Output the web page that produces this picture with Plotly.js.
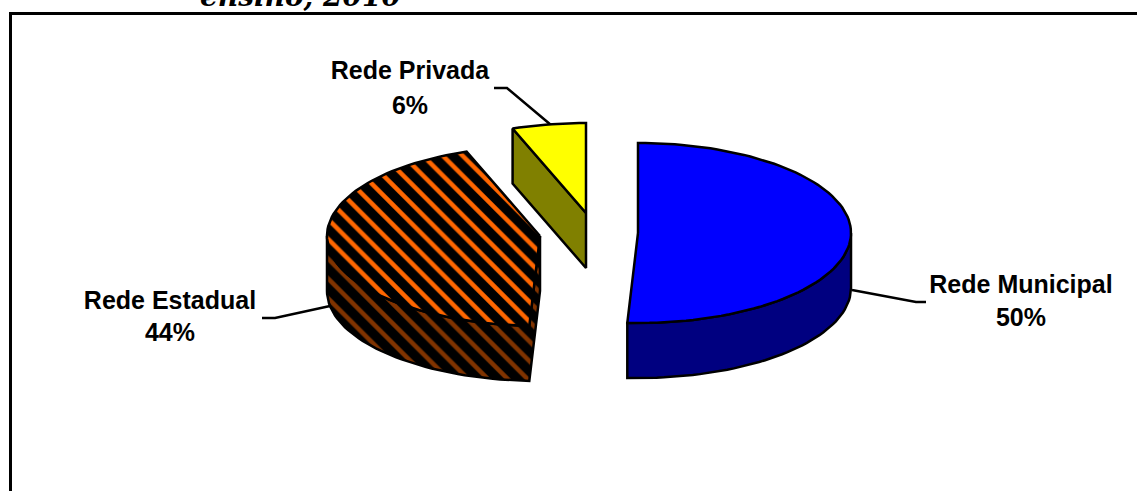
<!DOCTYPE html>
<html>
<head>
<meta charset="utf-8">
<script src="https://cdn.plot.ly/plotly-3.0.1.min.js"></script>
<style>html,body{margin:0;padding:0;background:#fff;overflow:hidden}#chart{width:1137px;height:491px}</style>
</head>
<body>
<div id="chart"></div>
<script>
// Data
const categories = ['Rede Municipal', 'Rede Estadual', 'Rede Privada'];
const sliceShares = [50.8, 43.6, 5.6];
const shareLabels = ['50%', '44%', '6%'];
const chartTitle = 'ensino, 2010';

// Pie geometry (pixel space, drawn through hidden linear axes)
const RX = 213, RY = 90, DEPTH = 55;
const apexes = [[638, 233], [540, 236], [586, 213]];
const labelCenters = [[1021, 287, 320], [170, 303, 335], [410, 73, 108]];
const leaders = [
  {x: [852, 916, 926], y: [290, 302, 302]},
  {x: [330, 275, 262], y: [306, 318, 318]},
  {x: [551, 507, 494], y: [125, 88, 88]}
];
const topColors = ['#0000FF', null, '#FFFF00'];
const sideColors = ['#000080', null, '#808000'];

function pt(i, deg, dz) {
  const t = deg * Math.PI / 180;
  return [apexes[i][0] + RX * Math.sin(t), apexes[i][1] - RY * Math.cos(t) + (dz || 0)];
}
function arc(i, a, b, dz) {
  const out = [], n = Math.max(2, Math.ceil(Math.abs(b - a) / 2));
  for (let k = 0; k <= n; k++) out.push(pt(i, a + (b - a) * k / n, dz));
  return out;
}
function apex(i, dz) { return [apexes[i][0], apexes[i][1] + (dz || 0)]; }

// Slice angles from the shares, clockwise from 12 o'clock
const starts = [], ends = [];
sliceShares.reduce((acc, v, i) => {
  starts[i] = acc; ends[i] = acc + v * 3.6; return ends[i];
}, 0);

function poly(points, style) {
  const p = points.concat([points[0]]);
  return Object.assign({
    type: 'scatter', mode: 'lines', fill: 'toself',
    x: p.map(q => q[0]), y: p.map(q => q[1]),
    line: {color: '#000', width: 2.5, shape: 'linear'},
    hoverinfo: 'skip', showlegend: false
  }, style);
}
function hatch(bg) {
  return {fillpattern: {shape: '\\', size: 14, solidity: 0.68, fgcolor: '#000', fgopacity: 1, bgcolor: bg}, fillcolor: bg};
}

const traces = [];
// leader lines under the slices
leaders.forEach(l => traces.push({type: 'scatter', mode: 'lines', x: l.x, y: l.y,
  line: {color: '#000', width: 2.5}, hoverinfo: 'skip', showlegend: false}));

// Municipal (index 0): outer wall then top
traces.push(poly(arc(0, 90, ends[0], 0).concat(arc(0, ends[0], 90, DEPTH)), {fillcolor: sideColors[0]}));
traces.push(poly([apex(0)].concat(arc(0, starts[0], ends[0], 0)), {fillcolor: topColors[0]}));

// Estadual (index 1): cut face plus outer wall then top
traces.push(poly([apex(1), apex(1, DEPTH)].concat(arc(1, starts[1], 270, DEPTH), arc(1, 270, starts[1], 0)), hatch('#803300')));
traces.push(poly([apex(1)].concat(arc(1, starts[1], ends[1], 0)), hatch('#FF6600')));

// Privada (index 2): cut face then top
traces.push(poly([apex(2), apex(2, DEPTH), pt(2, starts[2], DEPTH), pt(2, starts[2], 0)], {fillcolor: sideColors[2]}));
traces.push(poly([apex(2)].concat(arc(2, starts[2], ends[2], 0)), {fillcolor: topColors[2]}));

// Labels
const labelFont = {family: '"Liberation Sans", Arial, sans-serif', size: 25, color: '#000'};
traces.push({type: 'scatter', mode: 'text', cliponaxis: false,
  x: labelCenters.map(c => c[0]), y: labelCenters.map(c => c[1]),
  text: categories.map(s => '<b>' + s + '</b>'), textposition: 'middle center',
  textfont: labelFont, hoverinfo: 'skip', showlegend: false});
traces.push({type: 'scatter', mode: 'text', cliponaxis: false,
  x: labelCenters.map(c => c[0]), y: labelCenters.map(c => c[2]),
  text: shareLabels.map(s => '<b>' + s + '</b>'), textposition: 'middle center',
  textfont: labelFont, hoverinfo: 'skip', showlegend: false});

const layout = {
  width: 1137, height: 491,
  margin: {l: 0, r: 0, t: 0, b: 0, pad: 0},
  paper_bgcolor: '#fff', plot_bgcolor: '#fff',
  showlegend: false,
  annotations: [{
    text: '<b><i>' + chartTitle + '</i></b>',
    font: {family: '"DejaVu Serif", serif', size: 28, color: '#000'},
    xref: 'paper', yref: 'paper', x: 301 / 1137, y: 1 + 4 / 491, xanchor: 'center', yanchor: 'middle',
    showarrow: false, borderpad: 0
  }],
  xaxis: {range: [0, 1137], visible: false, fixedrange: true},
  yaxis: {range: [491, 0], visible: false, fixedrange: true},
  shapes: [{type: 'rect', xref: 'x', yref: 'y', x0: 10.5, y0: 13.5, x1: 1150, y1: 505,
    line: {color: '#000', width: 3}, fillcolor: 'rgba(0,0,0,0)', layer: 'above'}]
};

Plotly.newPlot('chart', traces, layout, {displayModeBar: false, responsive: false, staticPlot: true});
</script>
</body>
</html>
